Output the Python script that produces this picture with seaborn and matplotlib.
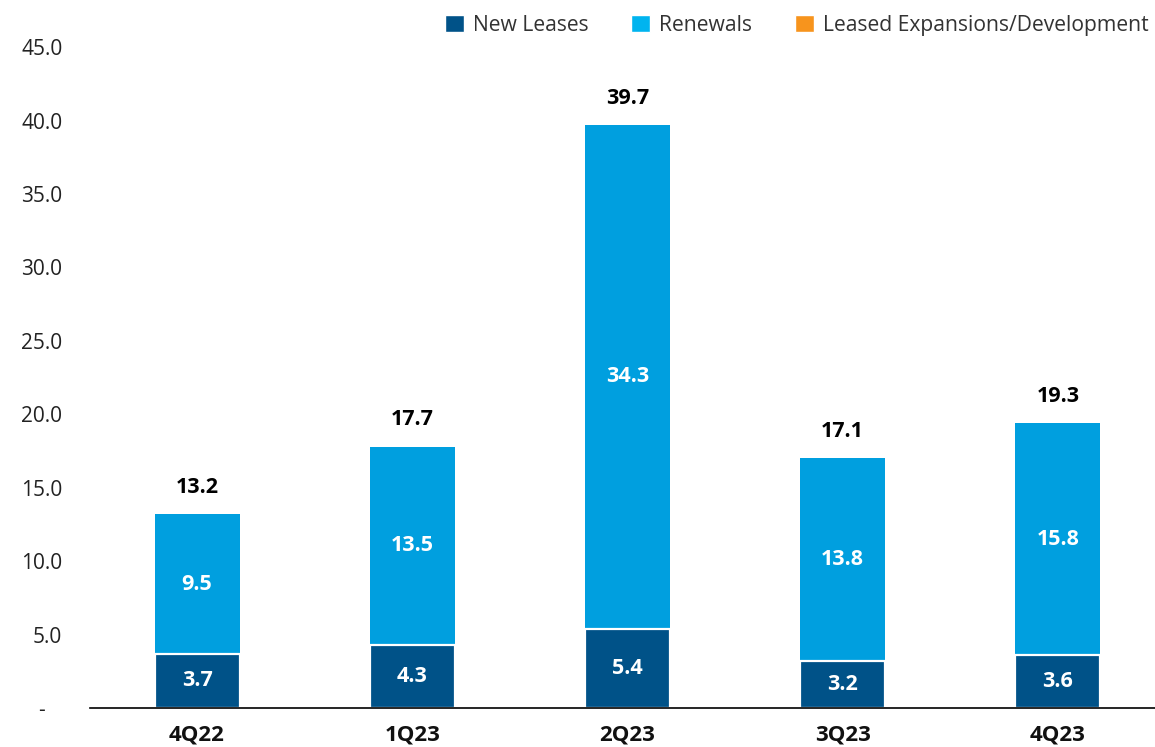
import matplotlib
matplotlib.use("Agg")
import matplotlib.pyplot as plt
from matplotlib.patches import Patch
import numpy as np
import pandas as pd
import seaborn as sns

# Leasing volume by quarter
quarters = ["4Q22", "1Q23", "2Q23", "3Q23", "4Q23"]
new_leases = [3.7, 4.3, 5.4, 3.2, 3.6]
renewals = [9.5, 13.5, 34.3, 13.8, 15.8]
expansions = [0.0, 0.0, 0.0, 0.0, 0.0]
totals = [13.2, 17.7, 39.7, 17.1, 19.3]
y_ticks = [0, 5, 10, 15, 20, 25, 30, 35, 40, 45]

C_NEW = "#005288"
C_REN = "#009FDF"
C_REN_KEY = "#00B4EF"
C_EXP = "#F7941D"

sns.set_theme(style="white")
plt.rcParams["font.family"] = ["Open Sans", "DejaVu Sans"]
FS = 15
FS_LBL = 15.5

df = pd.DataFrame({
    "quarter": quarters,
    "new": new_leases,
    "ren": renewals,
    "exp": expansions,
})
df["new_ren"] = df["new"] + df["ren"]
df["stack_top"] = df["new_ren"] + df["exp"]

fig = plt.figure(figsize=(11.55, 7.47), dpi=100)
ax = fig.add_axes([0.078, 0.052, 0.922, 0.885])

# stacked layers, drawn from the top of the stack downwards
sns.barplot(data=df, x="quarter", y="stack_top", color=C_EXP, width=0.395,
            saturation=1, ax=ax, edgecolor="white", linewidth=0)
sns.barplot(data=df, x="quarter", y="new_ren", color=C_REN, width=0.395,
            saturation=1, ax=ax, edgecolor="white", linewidth=0)
sns.barplot(data=df, x="quarter", y="new", color=C_NEW, width=0.395,
            saturation=1, ax=ax, edgecolor="white", linewidth=1.6)

# segment value labels
for i, row in df.iterrows():
    ax.text(i, row["new"] / 2, f"{row['new']:.1f}", ha="center", va="center",
            color="white", fontsize=FS_LBL, fontweight="bold")
    ax.text(i, row["new"] + row["ren"] / 2, f"{row['ren']:.1f}", ha="center",
            va="center", color="white", fontsize=FS_LBL, fontweight="bold")
    ax.text(i, row["stack_top"] + 1.1, f"{totals[i]:.1f}", ha="center",
            va="bottom", color="black", fontsize=FS_LBL, fontweight="bold")

ax.set_ylim(0, 45)
ax.set_xlim(-0.497, 4.451)
ax.set_yticks(y_ticks)
ax.set_yticklabels(["-   "] + [f"{v:.1f}" for v in y_ticks[1:]])
ax.tick_params(axis="y", length=0, pad=20, labelsize=FS, labelcolor="#222222")
ax.tick_params(axis="x", length=0, pad=12, labelsize=16)
for lbl in ax.get_xticklabels():
    lbl.set_fontweight("bold")
    lbl.set_color("#111111")
ax.set_xlabel("")
ax.set_ylabel("")
for side in ["left", "right", "top"]:
    ax.spines[side].set_visible(False)
ax.spines["bottom"].set_color("black")
ax.spines["bottom"].set_linewidth(1.2)

handles = [
    Patch(facecolor=C_NEW, label="New Leases"),
    Patch(facecolor=C_REN_KEY, label="Renewals"),
    Patch(facecolor=C_EXP, label="Leased Expansions/Development"),
]
fig.legend(handles=handles, loc="upper right", bbox_to_anchor=(1.011, 1.006),
           ncol=3, frameon=False, fontsize=15.2, handlelength=0.9,
           handleheight=0.9, handletextpad=0.45, columnspacing=2.0,
           labelcolor="#333333")

fig.savefig("out.png", dpi=100)
